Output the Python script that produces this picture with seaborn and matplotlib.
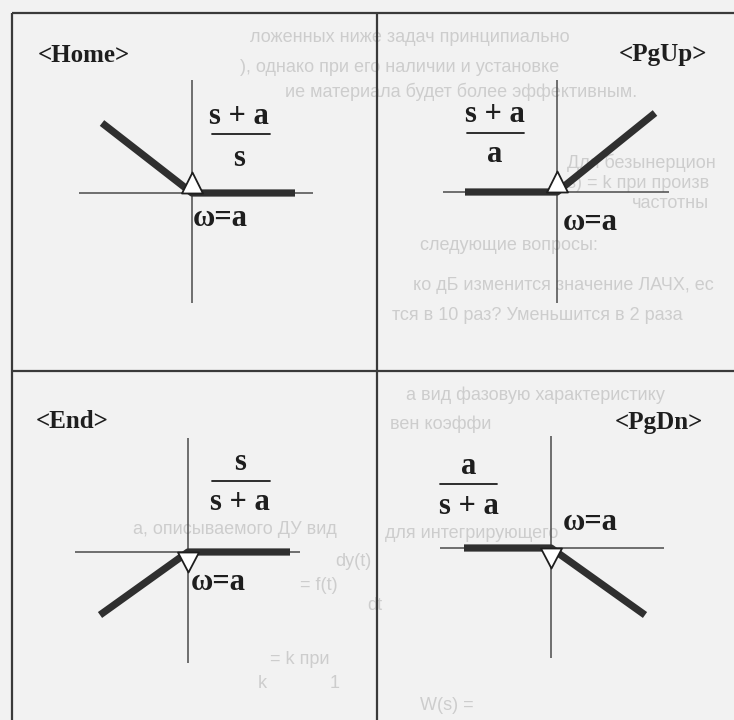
import matplotlib
matplotlib.use("Agg")
import matplotlib.pyplot as plt
import seaborn as sns
import pandas as pd
from matplotlib.path import Path

sns.set_theme(style="white")
plt.rcParams['font.family'] = ['Liberation Serif', 'DejaVu Serif']

W, H = 734, 720
DPI = 100

# Asymptotic log-magnitude curves: x = log10(w/a) in decades, y = L in dB
home_w = [-0.90, 0.0, 1.03]
home_L = [17.5, 0.0, 0.0]
pgup_w = [-0.92, 0.0, 0.98]
pgup_L = [0.0, 0.0, 19.75]
end_w = [-0.88, 0.0, 1.02]
end_L = [-15.75, 0.0, 0.0]
pgdn_w = [-0.87, 0.0, 0.94]
pgdn_L = [0.0, 0.0, -16.75]

keys = ["<Home>", "<PgUp>", "<End>", "<PgDn>"]
numerators = ["s + a", "s + a", "s", "a"]
denominators = ["s", "a", "s + a", "s + a"]
corner_label = "ω=a"

# layout of each cell (pixel positions of the axis crossing, labels, fraction bar)
panels = [
    dict(w=home_w, L=home_L, origin=(192, 193), xr=(-1.13, 1.21), yr=(-27.5, 28.25), up=True,
         key_xy=(38, 55), frac_x=239, frac_y=(117, 134, 158), bar=(212, 270), corner_xy=(193, 219)),
    dict(w=pgup_w, L=pgup_L, origin=(557, 192), xr=(-1.14, 1.12), yr=(-27.75, 28.0), up=True,
         key_xy=(619, 55), frac_x=495, frac_y=(114, 133, 154), bar=(467, 524), corner_xy=(563, 222)),
    dict(w=end_w, L=end_L, origin=(188, 552), xr=(-1.13, 1.12), yr=(-27.75, 28.5), up=False,
         key_xy=(36, 422), frac_x=240, frac_y=(462, 481, 502), bar=(212, 270), corner_xy=(191, 583)),
    dict(w=pgdn_w, L=pgdn_L, origin=(551, 548), xr=(-1.11, 1.13), yr=(-27.5, 28.0), up=False,
         key_xy=(615, 422), frac_x=469, frac_y=(467, 484, 506), bar=(440, 497), corner_xy=(563, 523)),
]

SX, SY = 100.0, 4.0  # px per decade, px per dB

BG = "#f2f2f2"
INK = "#1e1e1e"
LINE = "#2f2f2f"
FAINT = "#cdcdcd"

fig = plt.figure(figsize=(W / DPI, H / DPI), dpi=DPI, facecolor=BG)

# page layer: faint printed text, cell frame and labels
bg = fig.add_axes([0, 0, 1, 1], zorder=0)
bg.set_xlim(0, W)
bg.set_ylim(H, 0)
bg.axis("off")
bg.set_facecolor(BG)

page_lines = [
    (250, 37, "ложенных ниже задач принципиально"),
    (240, 68, "), однако при его наличии и установке"),
    (285, 92, "ие материала будет более эффективным."),
    (567, 163, "Для безынерцион"),
    (567, 184, "s) = k при произв"),
    (632, 204, "частотны"),
    (420, 245, "следующие вопросы:"),
    (413, 285, "ко дБ изменится значение ЛАЧХ, ес"),
    (392, 315, "тся в 10 раз? Уменьшится в 2 раза"),
    (406, 395, "а вид фазовую характеристику"),
    (390, 424, "вен коэффи"),
    (133, 529, "а, описываемого ДУ вид"),
    (385, 533, "для интегрирующего"),
    (335, 562, "dy(t)"),
    (300, 585, "= f(t)"),
    (367, 606, "dt"),
    (270, 660, "= k при"),
    (258, 684, "k"),
    (330, 684, "1"),
    (420, 706, "W(s) ="),
]
for x, y, t in page_lines:
    bg.text(x, y, t, color=FAINT, fontsize=13, ha="left", va="center",
            family=["Liberation Sans", "DejaVu Sans"], zorder=0)

frame_kw = dict(color="#3a3a3a", lw=1.6, solid_capstyle="butt", zorder=2)
bg.plot([12, W], [13, 13], **frame_kw)
bg.plot([12, 12], [13, H], **frame_kw)
bg.plot([377, 377], [13, H], **frame_kw)
bg.plot([12, W], [371, 371], **frame_kw)

txt_kw = dict(color=INK, fontweight="bold", zorder=3)
for p, key, num, den in zip(panels, keys, numerators, denominators):
    kx, ky = p["key_xy"]
    bg.text(kx, ky, key, fontsize=18, ha="left", va="center", **txt_kw)
    ny, by, dy = p["frac_y"]
    bg.text(p["frac_x"], ny, num, fontsize=22, ha="center", va="center", **txt_kw)
    bg.plot(list(p["bar"]), [by, by], color=INK, lw=1.3, zorder=3)
    bg.text(p["frac_x"], dy, den, fontsize=22, ha="center", va="center", **txt_kw)
    cx, cy = p["corner_xy"]
    bg.text(cx, cy, corner_label, fontsize=22, ha="left", va="center", **txt_kw)

# Bode asymptote panels
for p in panels:
    ox, oy = p["origin"]
    left = ox + p["xr"][0] * SX
    right = ox + p["xr"][1] * SX
    top = oy - p["yr"][1] * SY
    bottom = oy - p["yr"][0] * SY
    ax = fig.add_axes([left / W, 1 - bottom / H, (right - left) / W, (bottom - top) / H], zorder=1)
    ax.set_xlim(*p["xr"])
    ax.set_ylim(*p["yr"])
    ax.patch.set_alpha(0)
    ax.axis("off")
    ax.axhline(0, color="#4a4a4a", lw=1.1, zorder=1)
    ax.axvline(0, color="#4a4a4a", lw=1.1, zorder=1)
    df = pd.DataFrame({"logw": p["w"], "L": p["L"]})
    sns.lineplot(data=df, x="logw", y="L", ax=ax, sort=False, estimator=None,
                 color=LINE, linewidth=5.2, solid_capstyle="butt", zorder=2)
    # hollow triangle at the corner frequency, base on the 0 dB line
    h = 21 if p["up"] else -20
    tri = Path([(-10.5, 0), (10.5, 0), (0, h), (-10.5, 0)],
               [Path.MOVETO, Path.LINETO, Path.LINETO, Path.CLOSEPOLY])
    ax.plot([0], [0], marker=tri, markersize=2 * abs(h) * 0.72, mfc="white",
            mec="#1e1e1e", mew=1.3, linestyle="none", zorder=4, clip_on=False)

fig.savefig("out.png", dpi=DPI, facecolor=BG)
